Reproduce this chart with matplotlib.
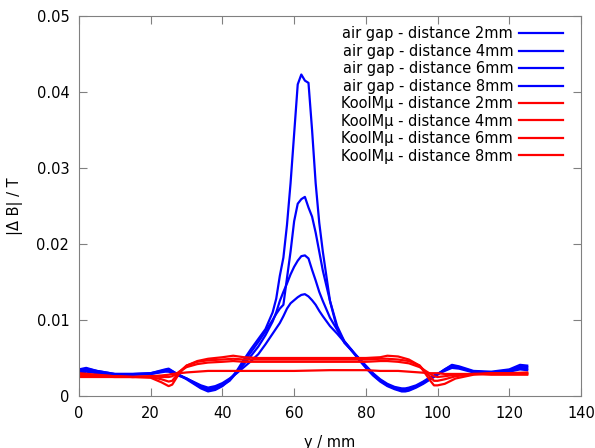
import matplotlib
matplotlib.use('Agg')
import matplotlib.pyplot as plt
import numpy as np

# air gap curves (blue)
x_air = [0, 2, 5, 10, 15, 20, 24, 25, 27, 30, 34, 36, 38, 40, 42, 44, 46, 48, 50, 52, 54, 55,
         56, 57, 58, 59, 60, 61, 62, 63, 64, 65, 66, 67, 68, 70, 72, 74, 76, 78, 80, 82, 84,
         86, 88, 90, 91, 92, 94, 96, 98, 100, 102, 104, 106, 110, 115, 120, 123, 125]
air_2mm = [0.0033, 0.0036, 0.0033, 0.0029, 0.0029, 0.0030, 0.0035, 0.0036, 0.0030, 0.0022,
           0.0010, 0.0006, 0.0008, 0.0013, 0.0021, 0.0033, 0.0048, 0.0062, 0.0075, 0.0088,
           0.0110, 0.0128, 0.0158, 0.0182, 0.0225, 0.0280, 0.0345, 0.0410, 0.0423, 0.0415,
           0.0412, 0.0350, 0.0280, 0.0228, 0.0190, 0.0125, 0.0088, 0.0070, 0.0060, 0.0048,
           0.0037, 0.0027, 0.0019, 0.0013, 0.0009, 0.0006, 0.0006, 0.0007, 0.0011, 0.0016,
           0.0022, 0.0028, 0.0035, 0.0041, 0.0039, 0.0033, 0.0032, 0.0035, 0.0041, 0.0040]
air_4mm = [0.0035, 0.0037, 0.0033, 0.0029, 0.0029, 0.0030, 0.0034, 0.0035, 0.0030, 0.0023,
           0.0011, 0.0008, 0.0010, 0.0014, 0.0020, 0.0031, 0.0045, 0.0058, 0.0071, 0.0085,
           0.0100, 0.0108, 0.0115, 0.0120, 0.0155, 0.0190, 0.0230, 0.0253, 0.0259, 0.0262,
           0.0248, 0.0236, 0.0215, 0.0190, 0.0165, 0.0125, 0.0092, 0.0072, 0.0061, 0.0049,
           0.0038, 0.0028, 0.0020, 0.0014, 0.0010, 0.0007, 0.0007, 0.0008, 0.0012, 0.0017,
           0.0023, 0.0029, 0.0035, 0.0040, 0.0038, 0.0032, 0.0031, 0.0034, 0.0039, 0.0038]
air_6mm = [0.0031, 0.0034, 0.0031, 0.0028, 0.0028, 0.0029, 0.0033, 0.0034, 0.0029, 0.0023,
           0.0013, 0.0010, 0.0011, 0.0015, 0.0022, 0.0031, 0.0042, 0.0053, 0.0065, 0.0080,
           0.0098, 0.0110, 0.0125, 0.0137, 0.0148, 0.0160, 0.0170, 0.0178, 0.0184, 0.0185,
           0.0181, 0.0166, 0.0152, 0.0137, 0.0125, 0.0103, 0.0087, 0.0072, 0.0060, 0.0050,
           0.0039, 0.0029, 0.0021, 0.0015, 0.0011, 0.0009, 0.0009, 0.0010, 0.0013, 0.0018,
           0.0024, 0.0029, 0.0034, 0.0039, 0.0037, 0.0032, 0.0031, 0.0033, 0.0037, 0.0036]
air_8mm = [0.0029, 0.0032, 0.0030, 0.0028, 0.0028, 0.0029, 0.0032, 0.0032, 0.0028, 0.0023,
           0.0014, 0.0011, 0.0013, 0.0017, 0.0023, 0.0030, 0.0038, 0.0046, 0.0055, 0.0068,
           0.0082, 0.0089, 0.0096, 0.0105, 0.0115, 0.0122, 0.0126, 0.0130, 0.0133, 0.0134,
           0.0131, 0.0126, 0.0120, 0.0112, 0.0105, 0.0092, 0.0082, 0.0071, 0.0060, 0.0050,
           0.0040, 0.0030, 0.0022, 0.0016, 0.0012, 0.0010, 0.0010, 0.0011, 0.0014, 0.0019,
           0.0025, 0.0029, 0.0033, 0.0037, 0.0036, 0.0031, 0.0030, 0.0032, 0.0035, 0.0034]

# KoolMu curves (red)
x_kool = [0, 5, 10, 15, 20, 23, 25, 26, 28, 30, 33, 36, 40, 43, 46, 50, 60, 70, 80, 84,
          86, 89, 92, 95, 98, 99, 100, 102, 105, 110, 115, 120, 125]
kool_2mm = [0.0030, 0.0028, 0.0026, 0.0025, 0.0024, 0.0018, 0.0013, 0.0015, 0.0030, 0.0040,
            0.0046, 0.0049, 0.0051, 0.0053, 0.0051, 0.0050, 0.0050, 0.0050, 0.0050, 0.0051,
            0.0053, 0.0052, 0.0048, 0.0040, 0.0020, 0.0014, 0.0014, 0.0016, 0.0023, 0.0028,
            0.0030, 0.0030, 0.0030]
kool_4mm = [0.0028, 0.0027, 0.0026, 0.0025, 0.0025, 0.0022, 0.0019, 0.0020, 0.0032, 0.0040,
            0.0045, 0.0047, 0.0048, 0.0049, 0.0048, 0.0048, 0.0048, 0.0048, 0.0048, 0.0049,
            0.0049, 0.0048, 0.0046, 0.0040, 0.0025, 0.0020, 0.0020, 0.0022, 0.0026, 0.0029,
            0.0030, 0.0030, 0.0031]
kool_6mm = [0.0026, 0.0026, 0.0025, 0.0025, 0.0026, 0.0025, 0.0025, 0.0026, 0.0032, 0.0038,
            0.0042, 0.0044, 0.0045, 0.0046, 0.0045, 0.0045, 0.0045, 0.0045, 0.0045, 0.0046,
            0.0046, 0.0045, 0.0043, 0.0038, 0.0029, 0.0026, 0.0025, 0.0026, 0.0028, 0.0029,
            0.0029, 0.0030, 0.0029]
kool_8mm = [0.0025, 0.0025, 0.0025, 0.0025, 0.0026, 0.0027, 0.0028, 0.0029, 0.0030, 0.0031,
            0.0032, 0.0033, 0.0033, 0.0033, 0.0033, 0.0033, 0.0033, 0.0034, 0.0034, 0.0033,
            0.0033, 0.0033, 0.0032, 0.0031, 0.0030, 0.0030, 0.0030, 0.0029, 0.0029, 0.0029,
            0.0028, 0.0028, 0.0028]

air_curves = [air_2mm, air_4mm, air_6mm, air_8mm]
kool_curves = [kool_2mm, kool_4mm, kool_6mm, kool_8mm]
distances = ['2mm', '4mm', '6mm', '8mm']

fig = plt.figure(figsize=(5.95, 4.48), dpi=100)
ax = fig.add_axes([79 / 595, 52 / 448, 502 / 595, 380 / 448])

for y, d in zip(air_curves, distances):
    ax.plot(x_air, y, color='#0000ff', lw=1.6, label='air gap - distance ' + d)
for y, d in zip(kool_curves, distances):
    ax.plot(x_kool, y, color='#ff0000', lw=1.6, label='KoolMμ - distance ' + d)

ax.set_xlim(0, 140)
ax.set_ylim(0, 0.05)
ax.set_xticks(np.arange(0, 141, 20))
ax.set_yticks([0, 0.01, 0.02, 0.03, 0.04, 0.05])
ax.set_yticklabels(['0', '0.01', '0.02', '0.03', '0.04', '0.05'])
ax.tick_params(direction='in', length=6, width=0.8, color='#808080',
               top=True, right=True, labelsize=10.5, pad=7)
for s in ax.spines.values():
    s.set_color('#808080')
    s.set_linewidth(0.8)

ax.set_xlabel('y / mm', fontsize=10.5, labelpad=10)
ax.set_ylabel('|Δ B| / T', fontsize=10.5, labelpad=10)

ax.legend(loc='upper right', frameon=False, markerfirst=False, fontsize=10.5,
          handlelength=3.0, labelspacing=0.17, borderaxespad=0.3,
          handletextpad=0.4, bbox_to_anchor=(0.984, 1.0))

fig.savefig('out.png', dpi=100)
